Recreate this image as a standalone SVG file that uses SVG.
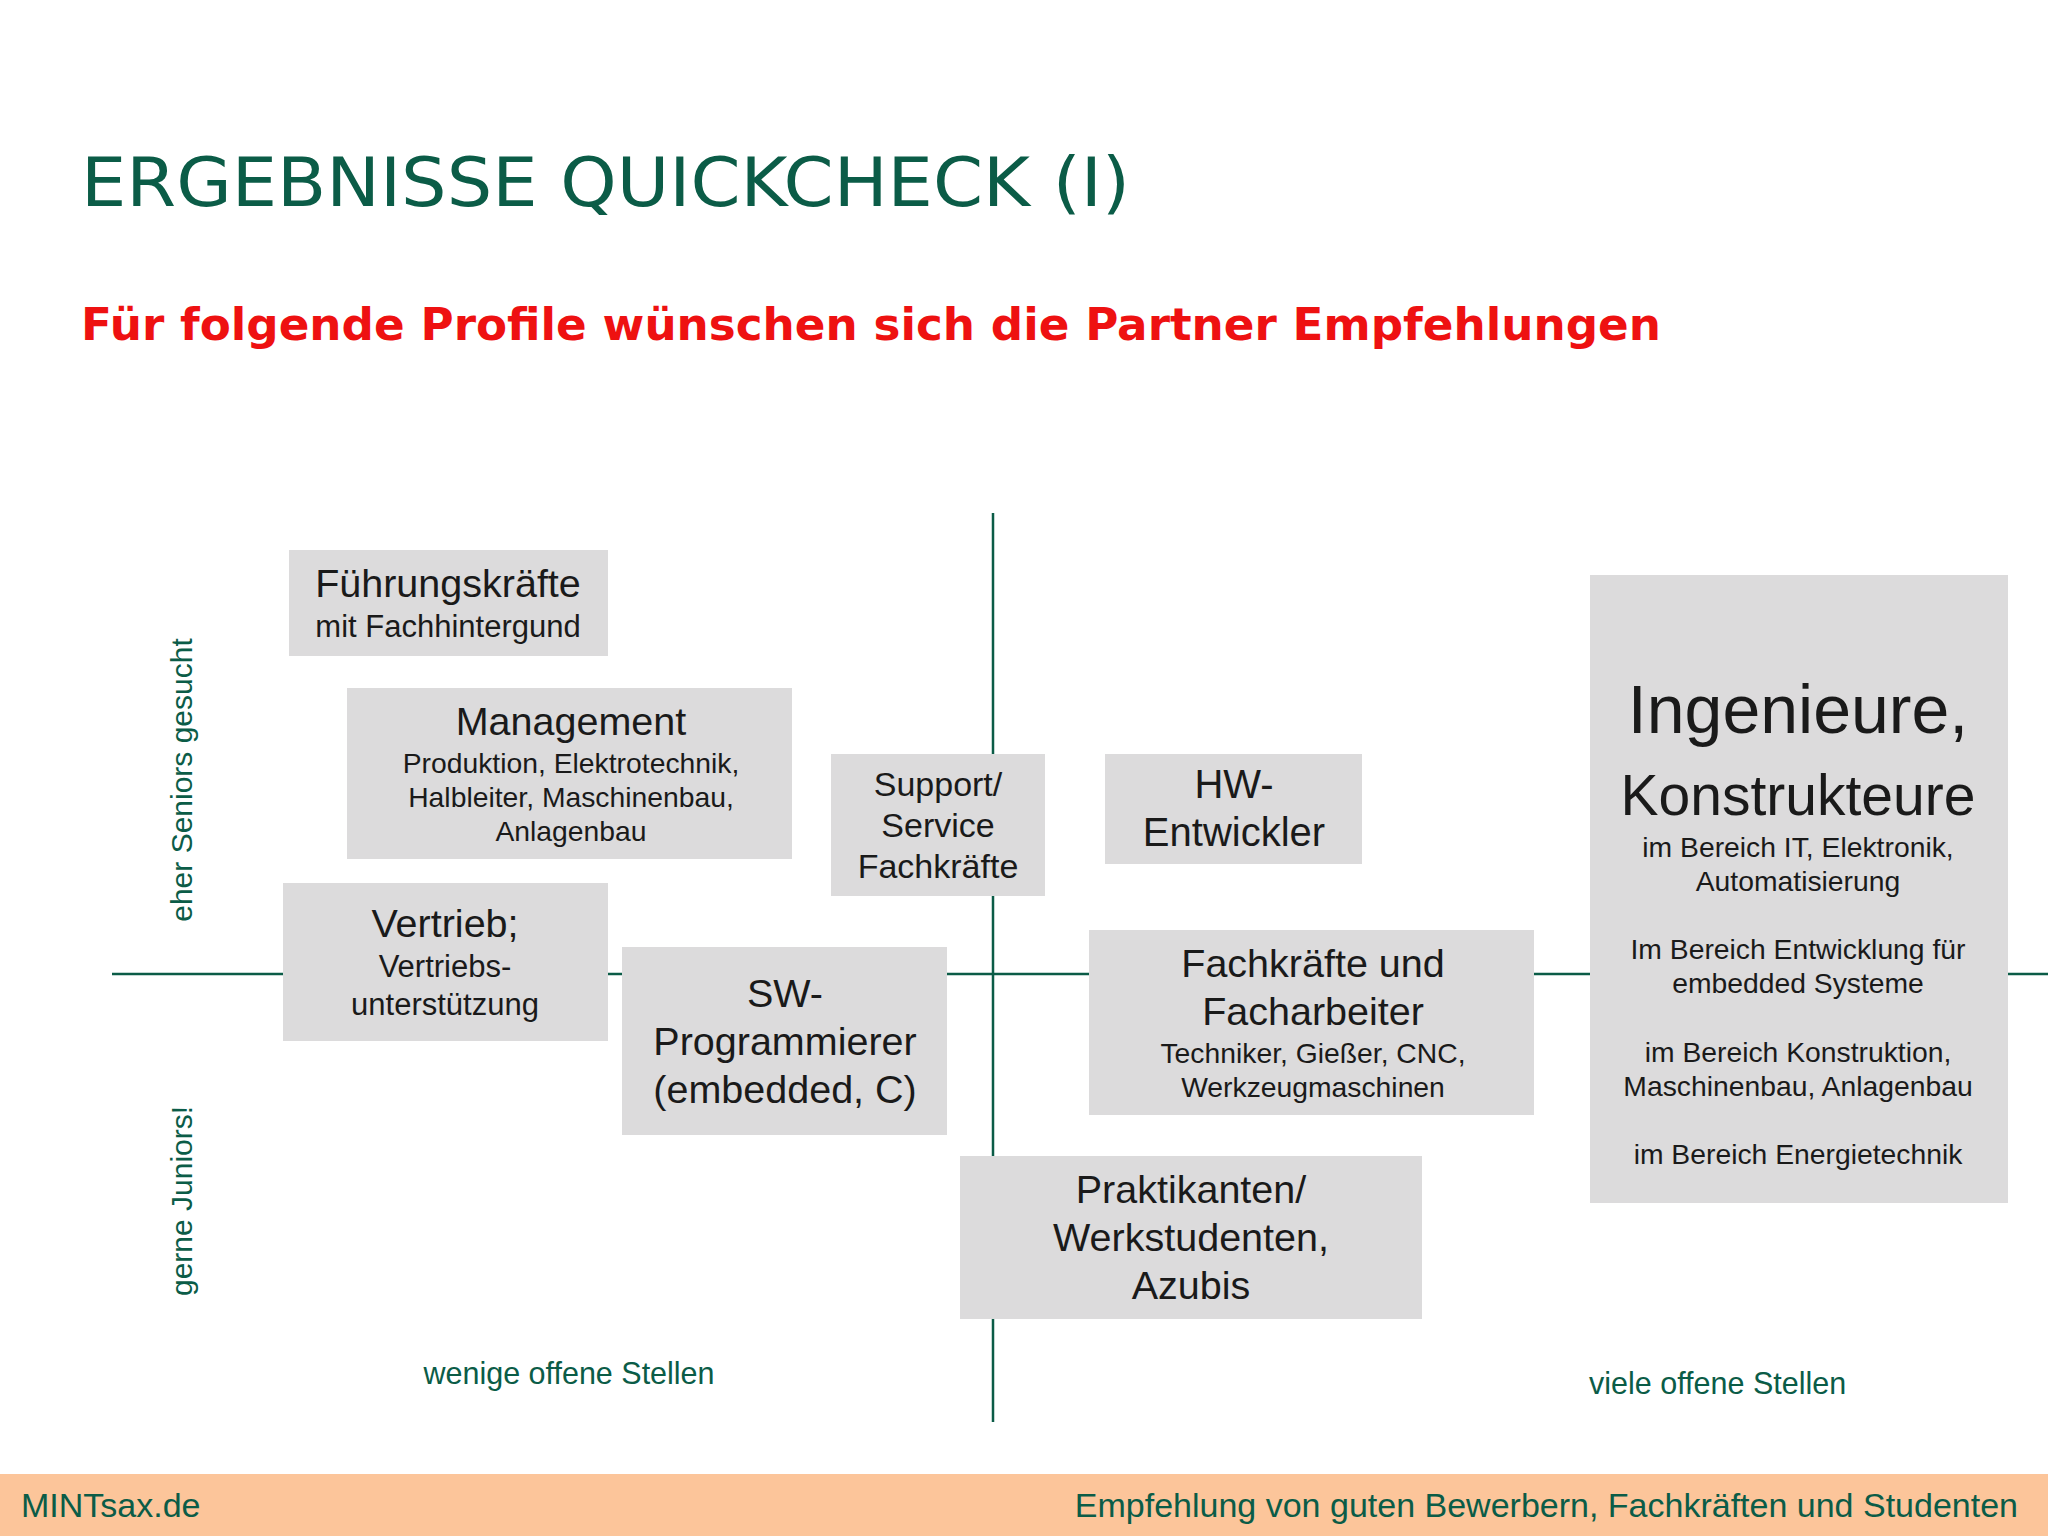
<svg xmlns="http://www.w3.org/2000/svg" width="2048" height="1536" viewBox="0 0 2048 1536">
<style>
text{font-family:"Liberation Sans",Arial,sans-serif}
.b{fill:#dcdbdc}
.t{fill:#1a1a1a;text-anchor:middle}
.g{fill:#0b5c47}
.ax{stroke:#0b5c47;stroke-width:2.5}
</style>
<rect width="2048" height="1536" fill="#ffffff"/>
<text x="81" y="206" font-size="68" class="g" style="font-family:'DejaVu Sans',Verdana,sans-serif" textLength="1049" lengthAdjust="spacingAndGlyphs">ERGEBNISSE QUICKCHECK (I)</text>
<text x="81" y="340" font-size="44" font-weight="bold" fill="#ee1111" style="font-family:'DejaVu Sans',Verdana,sans-serif" textLength="1580" lengthAdjust="spacingAndGlyphs">Für folgende Profile wünschen sich die Partner Empfehlungen</text>
<g id="connectors">
<line class="ax" x1="993" y1="513" x2="993" y2="1422"/>
<line class="ax" x1="112" y1="974" x2="2048" y2="974"/>
</g>
<g id="n1"><rect class="b" x="289" y="550" width="319" height="106"/>
<text class="t" x="448" y="597" font-size="39.5">Führungskräfte</text>
<text class="t" x="448" y="637" font-size="31">mit Fachhintergund</text></g>
<g id="n2"><rect class="b" x="347" y="688" width="445" height="171"/>
<text class="t" x="571" y="735" font-size="39.5">Management</text>
<text class="t" x="571" y="773" font-size="28.3">Produktion, Elektrotechnik,</text>
<text class="t" x="571" y="807" font-size="28.3">Halbleiter, Maschinenbau,</text>
<text class="t" x="571" y="841" font-size="28.3">Anlagenbau</text></g>
<g id="n3"><rect class="b" x="831" y="754" width="214" height="142"/>
<text class="t" x="938" y="796" font-size="34">Support/</text>
<text class="t" x="938" y="837" font-size="34">Service</text>
<text class="t" x="938" y="878" font-size="34">Fachkräfte</text></g>
<g id="n4"><rect class="b" x="1105" y="754" width="257" height="110"/>
<text class="t" x="1234" y="798" font-size="40">HW-</text>
<text class="t" x="1234" y="846" font-size="40">Entwickler</text></g>
<g id="n5"><rect class="b" x="1590" y="575" width="418" height="628"/>
<text class="t" x="1798" y="733" font-size="68">Ingenieure,</text>
<text class="t" x="1798" y="815" font-size="57">Konstrukteure</text>
<text class="t" x="1798" y="857" font-size="28.3">im Bereich IT, Elektronik,</text>
<text class="t" x="1798" y="891" font-size="28.3">Automatisierung</text>
<text class="t" x="1798" y="959" font-size="28.3">Im Bereich Entwicklung für</text>
<text class="t" x="1798" y="993" font-size="28.3">embedded Systeme</text>
<text class="t" x="1798" y="1062" font-size="28.3">im Bereich Konstruktion,</text>
<text class="t" x="1798" y="1096" font-size="28.3">Maschinenbau, Anlagenbau</text>
<text class="t" x="1798" y="1164" font-size="28.3">im Bereich Energietechnik</text></g>
<g id="n6"><rect class="b" x="283" y="883" width="325" height="158"/>
<text class="t" x="445" y="937" font-size="39.5">Vertrieb;</text>
<text class="t" x="445" y="977" font-size="31">Vertriebs-</text>
<text class="t" x="445" y="1015" font-size="31">unterstützung</text></g>
<g id="n7"><rect class="b" x="622" y="947" width="325" height="188"/>
<text class="t" x="785" y="1007" font-size="39.5">SW-</text>
<text class="t" x="785" y="1055" font-size="39.5">Programmierer</text>
<text class="t" x="785" y="1103" font-size="39.5">(embedded, C)</text></g>
<g id="n8"><rect class="b" x="1089" y="930" width="445" height="185"/>
<text class="t" x="1313" y="977" font-size="39.5">Fachkräfte und</text>
<text class="t" x="1313" y="1025" font-size="39.5">Facharbeiter</text>
<text class="t" x="1313" y="1063" font-size="28.3">Techniker, Gießer, CNC,</text>
<text class="t" x="1313" y="1097" font-size="28.3">Werkzeugmaschinen</text></g>
<g id="n9"><rect class="b" x="960" y="1156" width="462" height="163"/>
<text class="t" x="1191" y="1203" font-size="39.5">Praktikanten/</text>
<text class="t" x="1191" y="1251" font-size="39.5">Werkstudenten,</text>
<text class="t" x="1191" y="1299" font-size="39.5">Azubis</text></g>
<g id="labels">
<text class="g" font-size="30" text-anchor="middle" transform="translate(192,780) rotate(-90)">eher Seniors gesucht</text>
<text class="g" font-size="30" text-anchor="middle" transform="translate(192,1201) rotate(-90)">gerne Juniors!</text>
<text class="g" font-size="30.5" text-anchor="middle" x="569" y="1384">wenige offene Stellen</text>
<text class="g" font-size="30.5" x="1589" y="1394">viele offene Stellen</text>
</g>
<rect x="0" y="1474" width="2048" height="62" fill="#fcc59a"/>
<text class="g" font-size="34" x="21" y="1517">MINTsax.de</text>
<text class="g" font-size="34" x="2018" y="1517" text-anchor="end">Empfehlung von guten Bewerbern, Fachkräften und Studenten</text>
</svg>
